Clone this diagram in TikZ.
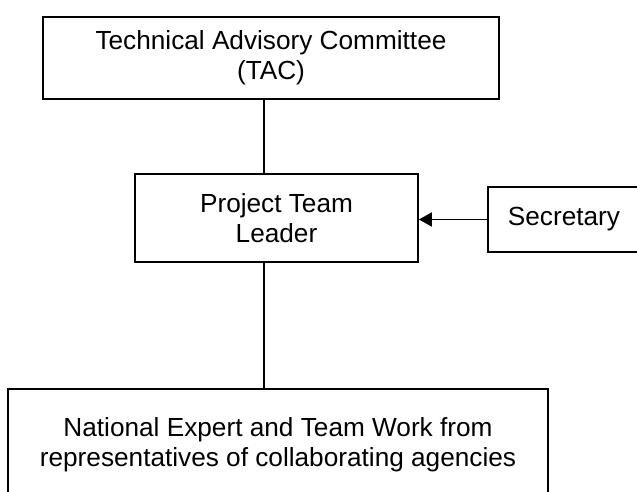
\documentclass[tikz,border=0pt]{standalone}
\usepackage{fontspec}
\setmainfont{Liberation Sans}
\usetikzlibrary{arrows.meta}

\tikzset{
	box/.style={draw=black, line width=0.9pt, inner sep=0pt, align=center, font=\fontsize{13.1}{15}\selectfont},
	link/.style={draw=black, line width=0.9pt},
}

\begin{document}
\begin{tikzpicture}[x=0.5pt,y=-0.5pt]
	
	%Background
	\useasboundingbox (0,0) rectangle (637,492);
	\clip (0,0) rectangle (637,492);
	
	%Committee
	\node[box, minimum width=228pt, minimum height=41pt] (tac) at (271,58) {Technical Advisory Committee\\(TAC)};
	
	%Leader
	\node[box, minimum width=141.5pt, minimum height=44pt] (ptl) at (276.5,218) {Project Team\\Leader};
	
	%Secretary
	\node[box, minimum width=76pt, minimum height=32.5pt] (sec) at (564,219.5) {Secretary};
	
	%Team
	\node[box, minimum width=270pt, minimum height=55.5pt] (team) at (278,444.5) {National Expert and Team Work from\\representatives of collaborating agencies};
	
	%Links
	\coordinate (spine) at (264,0);
	\draw[link] (spine |- tac.south) -- (spine |- ptl.north);
	\draw[link] (spine |- ptl.south) -- (spine |- team.north);
	\draw[link, -{Triangle[length=6.5pt,width=7pt]}] (sec.west) -- (sec.west -| ptl.east);
	
\end{tikzpicture}
\end{document}
